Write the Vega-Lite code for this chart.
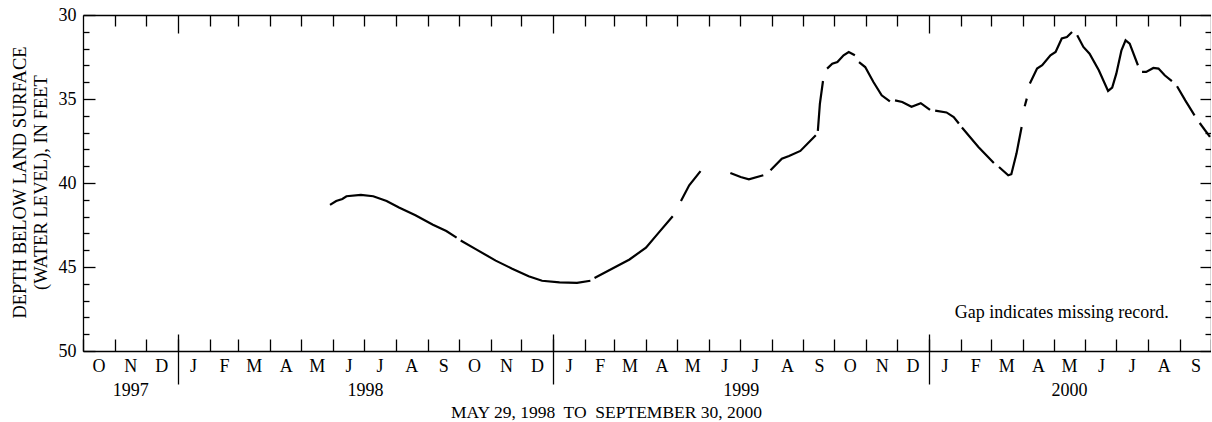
{
  "$schema": "https://vega.github.io/schema/vega-lite/v6.json",
  "width": 1128,
  "height": 336,
  "autosize": "none",
  "padding": {"left": 83, "top": 15, "right": 0, "bottom": 71},
  "background": "white",
  "config": {
    "view": {"stroke": null},
    "font": "Liberation Serif",
    "axis": {
      "grid": false,
      "labelFont": "Liberation Serif",
      "titleFont": "Liberation Serif",
      "labelColor": "black",
      "titleColor": "black",
      "tickColor": "black",
      "domainColor": "black",
      "labelFontSize": 18,
      "titleFontSize": 18.5,
      "titleFontWeight": "normal",
      "domainWidth": 1.3,
      "tickWidth": 1.3,
      "labelFlush": false,
      "labelOverlap": false,
      "labelBound": false
    }
  },
  "datasets": {
    "wl": [
      {"date": "1998-05-29", "depth": 41.30, "seg": 1},
      {"date": "1998-06-04", "depth": 41.07, "seg": 1},
      {"date": "1998-06-10", "depth": 40.95, "seg": 1},
      {"date": "1998-06-14", "depth": 40.79, "seg": 1},
      {"date": "1998-06-28", "depth": 40.71, "seg": 1},
      {"date": "1998-07-10", "depth": 40.79, "seg": 1},
      {"date": "1998-07-23", "depth": 41.07, "seg": 1},
      {"date": "1998-08-04", "depth": 41.46, "seg": 1},
      {"date": "1998-08-20", "depth": 41.92, "seg": 1},
      {"date": "1998-09-06", "depth": 42.48, "seg": 1},
      {"date": "1998-09-19", "depth": 42.86, "seg": 1},
      {"date": "1998-09-29", "depth": 43.25, "seg": 1},
      {"date": "1998-10-03", "depth": 43.42, "seg": 2},
      {"date": "1998-10-18", "depth": 43.95, "seg": 2},
      {"date": "1998-11-06", "depth": 44.62, "seg": 2},
      {"date": "1998-11-22", "depth": 45.10, "seg": 2},
      {"date": "1998-12-08", "depth": 45.55, "seg": 2},
      {"date": "1998-12-21", "depth": 45.82, "seg": 2},
      {"date": "1999-01-07", "depth": 45.92, "seg": 2},
      {"date": "1999-01-24", "depth": 45.95, "seg": 2},
      {"date": "1999-02-06", "depth": 45.82, "seg": 2},
      {"date": "1999-02-10", "depth": 45.65, "seg": 3},
      {"date": "1999-02-27", "depth": 45.10, "seg": 3},
      {"date": "1999-03-16", "depth": 44.55, "seg": 3},
      {"date": "1999-04-01", "depth": 43.85, "seg": 3},
      {"date": "1999-04-14", "depth": 42.91, "seg": 3},
      {"date": "1999-04-27", "depth": 41.98, "seg": 3},
      {"date": "1999-05-05", "depth": 41.07, "seg": 4},
      {"date": "1999-05-13", "depth": 40.14, "seg": 4},
      {"date": "1999-05-24", "depth": 39.29, "seg": 4},
      {"date": "1999-06-22", "depth": 39.40, "seg": 5},
      {"date": "1999-07-02", "depth": 39.64, "seg": 5},
      {"date": "1999-07-10", "depth": 39.78, "seg": 5},
      {"date": "1999-07-24", "depth": 39.54, "seg": 5},
      {"date": "1999-07-31", "depth": 39.24, "seg": 6},
      {"date": "1999-08-11", "depth": 38.55, "seg": 6},
      {"date": "1999-08-18", "depth": 38.39, "seg": 6},
      {"date": "1999-08-29", "depth": 38.09, "seg": 6},
      {"date": "1999-09-13", "depth": 37.16, "seg": 6},
      {"date": "1999-09-15", "depth": 36.90, "seg": 7},
      {"date": "1999-09-17", "depth": 35.27, "seg": 7},
      {"date": "1999-09-20", "depth": 33.93, "seg": 7},
      {"date": "1999-09-24", "depth": 33.19, "seg": 8},
      {"date": "1999-09-29", "depth": 32.90, "seg": 8},
      {"date": "1999-10-04", "depth": 32.80, "seg": 8},
      {"date": "1999-10-10", "depth": 32.40, "seg": 8},
      {"date": "1999-10-15", "depth": 32.20, "seg": 8},
      {"date": "1999-10-21", "depth": 32.40, "seg": 8},
      {"date": "1999-10-25", "depth": 32.80, "seg": 9},
      {"date": "1999-10-31", "depth": 33.10, "seg": 9},
      {"date": "1999-11-08", "depth": 33.99, "seg": 9},
      {"date": "1999-11-16", "depth": 34.78, "seg": 9},
      {"date": "1999-11-24", "depth": 35.14, "seg": 9},
      {"date": "1999-11-29", "depth": 35.08, "seg": 10},
      {"date": "1999-12-06", "depth": 35.18, "seg": 10},
      {"date": "1999-12-15", "depth": 35.46, "seg": 10},
      {"date": "1999-12-24", "depth": 35.25, "seg": 10},
      {"date": "2000-01-02", "depth": 35.65, "seg": 10},
      {"date": "2000-01-07", "depth": 35.69, "seg": 11},
      {"date": "2000-01-18", "depth": 35.80, "seg": 11},
      {"date": "2000-01-25", "depth": 36.07, "seg": 11},
      {"date": "2000-01-30", "depth": 36.46, "seg": 11},
      {"date": "2000-02-02", "depth": 36.70, "seg": 12},
      {"date": "2000-02-18", "depth": 37.86, "seg": 12},
      {"date": "2000-03-04", "depth": 38.81, "seg": 12},
      {"date": "2000-03-09", "depth": 39.05, "seg": 13},
      {"date": "2000-03-18", "depth": 39.54, "seg": 13},
      {"date": "2000-03-21", "depth": 39.48, "seg": 13},
      {"date": "2000-03-26", "depth": 38.25, "seg": 13},
      {"date": "2000-03-31", "depth": 36.67, "seg": 13},
      {"date": "2000-04-03", "depth": 35.43, "seg": 14},
      {"date": "2000-04-05", "depth": 34.98, "seg": 14},
      {"date": "2000-04-08", "depth": 34.08, "seg": 15},
      {"date": "2000-04-15", "depth": 33.19, "seg": 15},
      {"date": "2000-04-20", "depth": 32.99, "seg": 15},
      {"date": "2000-04-28", "depth": 32.40, "seg": 15},
      {"date": "2000-05-03", "depth": 32.20, "seg": 15},
      {"date": "2000-05-09", "depth": 31.40, "seg": 15},
      {"date": "2000-05-14", "depth": 31.31, "seg": 15},
      {"date": "2000-05-19", "depth": 31.01, "seg": 15},
      {"date": "2000-05-24", "depth": 31.21, "seg": 16},
      {"date": "2000-05-30", "depth": 31.90, "seg": 16},
      {"date": "2000-06-05", "depth": 32.30, "seg": 16},
      {"date": "2000-06-14", "depth": 33.29, "seg": 16},
      {"date": "2000-06-23", "depth": 34.52, "seg": 16},
      {"date": "2000-06-27", "depth": 34.32, "seg": 16},
      {"date": "2000-07-01", "depth": 33.49, "seg": 16},
      {"date": "2000-07-06", "depth": 32.10, "seg": 16},
      {"date": "2000-07-10", "depth": 31.51, "seg": 16},
      {"date": "2000-07-14", "depth": 31.71, "seg": 16},
      {"date": "2000-07-22", "depth": 32.99, "seg": 16},
      {"date": "2000-07-26", "depth": 33.39, "seg": 17},
      {"date": "2000-07-30", "depth": 33.39, "seg": 17},
      {"date": "2000-08-06", "depth": 33.15, "seg": 17},
      {"date": "2000-08-11", "depth": 33.19, "seg": 17},
      {"date": "2000-08-17", "depth": 33.59, "seg": 17},
      {"date": "2000-08-24", "depth": 33.93, "seg": 17},
      {"date": "2000-08-29", "depth": 34.24, "seg": 18},
      {"date": "2000-09-06", "depth": 35.08, "seg": 18},
      {"date": "2000-09-15", "depth": 35.97, "seg": 18},
      {"date": "2000-09-20", "depth": 36.43, "seg": 19},
      {"date": "2000-09-30", "depth": 37.26, "seg": 19}
    ]
  },
  "data": {"name": "wl"},
  "resolve": {"axis": {"x": "independent", "y": "independent"}},
  "layer": [
    {
      "mark": {"type": "line", "color": "black", "strokeWidth": 2.2},
      "encoding": {
        "x": {
          "field": "date", "type": "temporal",
          "scale": {"type": "utc", "domain": [{"year": 1997, "month": 10, "date": 1, "utc": true}, {"year": 2000, "month": 10, "date": 1, "utc": true}]},
          "axis": {
            "orient": "bottom", "title": null, "labels": false, "domain": true, "tickSize": -12,
            "values": [
              {"year": 1997, "month": 10, "date": 1, "utc": true}, {"year": 1997, "month": 11, "date": 1, "utc": true}, {"year": 1997, "month": 12, "date": 1, "utc": true},
              {"year": 1998, "month": 1, "date": 1, "utc": true}, {"year": 1998, "month": 2, "date": 1, "utc": true}, {"year": 1998, "month": 3, "date": 1, "utc": true},
              {"year": 1998, "month": 4, "date": 1, "utc": true}, {"year": 1998, "month": 5, "date": 1, "utc": true}, {"year": 1998, "month": 6, "date": 1, "utc": true},
              {"year": 1998, "month": 7, "date": 1, "utc": true}, {"year": 1998, "month": 8, "date": 1, "utc": true}, {"year": 1998, "month": 9, "date": 1, "utc": true},
              {"year": 1998, "month": 10, "date": 1, "utc": true}, {"year": 1998, "month": 11, "date": 1, "utc": true}, {"year": 1998, "month": 12, "date": 1, "utc": true},
              {"year": 1999, "month": 1, "date": 1, "utc": true}, {"year": 1999, "month": 2, "date": 1, "utc": true}, {"year": 1999, "month": 3, "date": 1, "utc": true},
              {"year": 1999, "month": 4, "date": 1, "utc": true}, {"year": 1999, "month": 5, "date": 1, "utc": true}, {"year": 1999, "month": 6, "date": 1, "utc": true},
              {"year": 1999, "month": 7, "date": 1, "utc": true}, {"year": 1999, "month": 8, "date": 1, "utc": true}, {"year": 1999, "month": 9, "date": 1, "utc": true},
              {"year": 1999, "month": 10, "date": 1, "utc": true}, {"year": 1999, "month": 11, "date": 1, "utc": true}, {"year": 1999, "month": 12, "date": 1, "utc": true},
              {"year": 2000, "month": 1, "date": 1, "utc": true}, {"year": 2000, "month": 2, "date": 1, "utc": true}, {"year": 2000, "month": 3, "date": 1, "utc": true},
              {"year": 2000, "month": 4, "date": 1, "utc": true}, {"year": 2000, "month": 5, "date": 1, "utc": true}, {"year": 2000, "month": 6, "date": 1, "utc": true},
              {"year": 2000, "month": 7, "date": 1, "utc": true}, {"year": 2000, "month": 8, "date": 1, "utc": true}, {"year": 2000, "month": 9, "date": 1, "utc": true},
              {"year": 2000, "month": 10, "date": 1, "utc": true}
            ]
          }
        },
        "y": {
          "field": "depth", "type": "quantitative",
          "scale": {"domain": [30, 50], "reverse": true, "nice": false, "zero": false},
          "axis": {"orient": "left", "title": null, "labels": false, "domain": true, "tickSize": -12, "values": [30, 35, 40, 45, 50]}
        },
        "detail": {"field": "seg", "type": "nominal"}
      }
    },
    {
      "mark": {"type": "line", "strokeOpacity": 0},
      "encoding": {
        "x": {
          "field": "date", "type": "temporal",
          "scale": {"type": "utc", "domain": [{"year": 1997, "month": 10, "date": 1, "utc": true}, {"year": 2000, "month": 10, "date": 1, "utc": true}]},
          "axis": {
            "orient": "bottom", "title": null, "ticks": false, "domain": false, "labelPadding": 6,
            "labelExpr": "substring(utcFormat(datum.value, '%b'), 0, 1)",
            "values": [
              {"year": 1997, "month": 10, "date": 16, "utc": true}, {"year": 1997, "month": 11, "date": 16, "utc": true}, {"year": 1997, "month": 12, "date": 16, "utc": true},
              {"year": 1998, "month": 1, "date": 16, "utc": true}, {"year": 1998, "month": 2, "date": 15, "utc": true}, {"year": 1998, "month": 3, "date": 16, "utc": true},
              {"year": 1998, "month": 4, "date": 16, "utc": true}, {"year": 1998, "month": 5, "date": 16, "utc": true}, {"year": 1998, "month": 6, "date": 16, "utc": true},
              {"year": 1998, "month": 7, "date": 16, "utc": true}, {"year": 1998, "month": 8, "date": 16, "utc": true}, {"year": 1998, "month": 9, "date": 16, "utc": true},
              {"year": 1998, "month": 10, "date": 16, "utc": true}, {"year": 1998, "month": 11, "date": 16, "utc": true}, {"year": 1998, "month": 12, "date": 16, "utc": true},
              {"year": 1999, "month": 1, "date": 16, "utc": true}, {"year": 1999, "month": 2, "date": 15, "utc": true}, {"year": 1999, "month": 3, "date": 16, "utc": true},
              {"year": 1999, "month": 4, "date": 16, "utc": true}, {"year": 1999, "month": 5, "date": 16, "utc": true}, {"year": 1999, "month": 6, "date": 16, "utc": true},
              {"year": 1999, "month": 7, "date": 16, "utc": true}, {"year": 1999, "month": 8, "date": 16, "utc": true}, {"year": 1999, "month": 9, "date": 16, "utc": true},
              {"year": 1999, "month": 10, "date": 16, "utc": true}, {"year": 1999, "month": 11, "date": 16, "utc": true}, {"year": 1999, "month": 12, "date": 16, "utc": true},
              {"year": 2000, "month": 1, "date": 16, "utc": true}, {"year": 2000, "month": 2, "date": 15, "utc": true}, {"year": 2000, "month": 3, "date": 16, "utc": true},
              {"year": 2000, "month": 4, "date": 16, "utc": true}, {"year": 2000, "month": 5, "date": 16, "utc": true}, {"year": 2000, "month": 6, "date": 16, "utc": true},
              {"year": 2000, "month": 7, "date": 16, "utc": true}, {"year": 2000, "month": 8, "date": 16, "utc": true}, {"year": 2000, "month": 9, "date": 16, "utc": true}
            ]
          }
        },
        "y": {
          "field": "depth", "type": "quantitative",
          "scale": {"domain": [30, 50], "reverse": true, "nice": false, "zero": false},
          "axis": {
            "orient": "left", "ticks": false, "domain": false, "labelPadding": 7, "values": [30, 35, 40, 45, 50],
            "title": ["DEPTH BELOW LAND SURFACE", "(WATER LEVEL), IN FEET"],
            "titleAngle": -90, "titleX": -73, "titleY": 167, "titleAlign": "center", "titleBaseline": "top", "titleLineHeight": 21
          }
        }
      }
    },
    {
      "mark": {"type": "line", "strokeOpacity": 0},
      "encoding": {
        "x": {
          "field": "date", "type": "temporal",
          "scale": {"type": "utc", "domain": [{"year": 1997, "month": 10, "date": 1, "utc": true}, {"year": 2000, "month": 10, "date": 1, "utc": true}]},
          "axis": {
            "orient": "bottom", "ticks": false, "domain": false, "labelPadding": 30,
            "labelExpr": "utcFormat(datum.value, '%Y')",
            "values": [
              {"year": 1997, "month": 11, "date": 16, "utc": true},
              {"year": 1998, "month": 7, "date": 2, "utc": true},
              {"year": 1999, "month": 7, "date": 2, "utc": true},
              {"year": 2000, "month": 5, "date": 16, "utc": true}
            ],
            "title": "MAY 29, 1998\u00a0 TO\u00a0 SEPTEMBER 30, 2000",
            "titleFontSize": 17.5, "titleX": 523, "titleY": 52, "titleAlign": "center", "titleBaseline": "top"
          }
        },
        "y": {
          "field": "depth", "type": "quantitative",
          "scale": {"domain": [30, 50], "reverse": true, "nice": false, "zero": false},
          "axis": {"orient": "left", "title": null, "labels": false, "domain": false, "tickSize": -6, "values": [31, 32, 33, 34, 36, 37, 38, 39, 41, 42, 43, 44, 46, 47, 48, 49]}
        }
      }
    },
    {
      "mark": {"type": "line", "strokeOpacity": 0},
      "encoding": {
        "x": {
          "field": "date", "type": "temporal",
          "scale": {"type": "utc", "domain": [{"year": 1997, "month": 10, "date": 1, "utc": true}, {"year": 2000, "month": 10, "date": 1, "utc": true}]},
          "axis": {
            "orient": "bottom", "title": null, "labels": false, "domain": false, "offset": -17, "tickSize": 50,
            "values": [
              {"year": 1998, "month": 1, "date": 1, "utc": true},
              {"year": 1999, "month": 1, "date": 1, "utc": true},
              {"year": 2000, "month": 1, "date": 1, "utc": true}
            ]
          }
        },
        "y": {
          "field": "depth", "type": "quantitative",
          "scale": {"domain": [30, 50], "reverse": true, "nice": false, "zero": false},
          "axis": {"orient": "right", "title": null, "labels": false, "domain": true, "tickSize": -11, "values": [30, 35, 40, 45, 50]}
        }
      }
    },
    {
      "mark": {"type": "line", "strokeOpacity": 0},
      "encoding": {
        "x": {
          "field": "date", "type": "temporal",
          "scale": {"type": "utc", "domain": [{"year": 1997, "month": 10, "date": 1, "utc": true}, {"year": 2000, "month": 10, "date": 1, "utc": true}]},
          "axis": {
            "orient": "top", "title": null, "labels": false, "domain": true, "tickSize": -11,
            "values": [
              {"year": 1997, "month": 11, "date": 1, "utc": true}, {"year": 1997, "month": 12, "date": 1, "utc": true},
              {"year": 1998, "month": 2, "date": 1, "utc": true}, {"year": 1998, "month": 3, "date": 1, "utc": true},
              {"year": 1998, "month": 4, "date": 1, "utc": true}, {"year": 1998, "month": 5, "date": 1, "utc": true}, {"year": 1998, "month": 6, "date": 1, "utc": true},
              {"year": 1998, "month": 7, "date": 1, "utc": true}, {"year": 1998, "month": 8, "date": 1, "utc": true}, {"year": 1998, "month": 9, "date": 1, "utc": true},
              {"year": 1998, "month": 10, "date": 1, "utc": true}, {"year": 1998, "month": 11, "date": 1, "utc": true}, {"year": 1998, "month": 12, "date": 1, "utc": true},
              {"year": 1999, "month": 2, "date": 1, "utc": true}, {"year": 1999, "month": 3, "date": 1, "utc": true},
              {"year": 1999, "month": 4, "date": 1, "utc": true}, {"year": 1999, "month": 5, "date": 1, "utc": true}, {"year": 1999, "month": 6, "date": 1, "utc": true},
              {"year": 1999, "month": 7, "date": 1, "utc": true}, {"year": 1999, "month": 8, "date": 1, "utc": true}, {"year": 1999, "month": 9, "date": 1, "utc": true},
              {"year": 1999, "month": 10, "date": 1, "utc": true}, {"year": 1999, "month": 11, "date": 1, "utc": true}, {"year": 1999, "month": 12, "date": 1, "utc": true},
              {"year": 2000, "month": 2, "date": 1, "utc": true}, {"year": 2000, "month": 3, "date": 1, "utc": true},
              {"year": 2000, "month": 4, "date": 1, "utc": true}, {"year": 2000, "month": 5, "date": 1, "utc": true}, {"year": 2000, "month": 6, "date": 1, "utc": true},
              {"year": 2000, "month": 7, "date": 1, "utc": true}, {"year": 2000, "month": 8, "date": 1, "utc": true}, {"year": 2000, "month": 9, "date": 1, "utc": true}
            ]
          }
        },
        "y": {
          "field": "depth", "type": "quantitative",
          "scale": {"domain": [30, 50], "reverse": true, "nice": false, "zero": false},
          "axis": {"orient": "right", "title": null, "labels": false, "domain": false, "tickSize": -6, "values": [31, 32, 33, 34, 36, 37, 38, 39, 41, 42, 43, 44, 46, 47, 48, 49]}
        }
      }
    },
    {
      "mark": {"type": "line", "strokeOpacity": 0},
      "encoding": {
        "x": {
          "field": "date", "type": "temporal",
          "scale": {"type": "utc", "domain": [{"year": 1997, "month": 10, "date": 1, "utc": true}, {"year": 2000, "month": 10, "date": 1, "utc": true}]},
          "axis": {
            "orient": "top", "title": null, "labels": false, "domain": false, "tickSize": -18,
            "values": [
              {"year": 1998, "month": 1, "date": 1, "utc": true},
              {"year": 1999, "month": 1, "date": 1, "utc": true},
              {"year": 2000, "month": 1, "date": 1, "utc": true}
            ]
          }
        },
        "y": {
          "field": "depth", "type": "quantitative",
          "scale": {"domain": [30, 50], "reverse": true, "nice": false, "zero": false},
          "axis": null
        }
      }
    },
    {
      "data": {"values": [{"date": "2000-08-21", "depth": 47.75, "note": "Gap indicates missing record."}]},
      "mark": {"type": "text", "align": "right", "baseline": "middle", "font": "Liberation Serif", "fontSize": 18, "color": "black"},
      "encoding": {
        "x": {
          "field": "date", "type": "temporal",
          "scale": {"type": "utc", "domain": [{"year": 1997, "month": 10, "date": 1, "utc": true}, {"year": 2000, "month": 10, "date": 1, "utc": true}]},
          "axis": null
        },
        "y": {
          "field": "depth", "type": "quantitative",
          "scale": {"domain": [30, 50], "reverse": true, "nice": false, "zero": false},
          "axis": null
        },
        "text": {"field": "note", "type": "nominal"}
      }
    }
  ]
}
